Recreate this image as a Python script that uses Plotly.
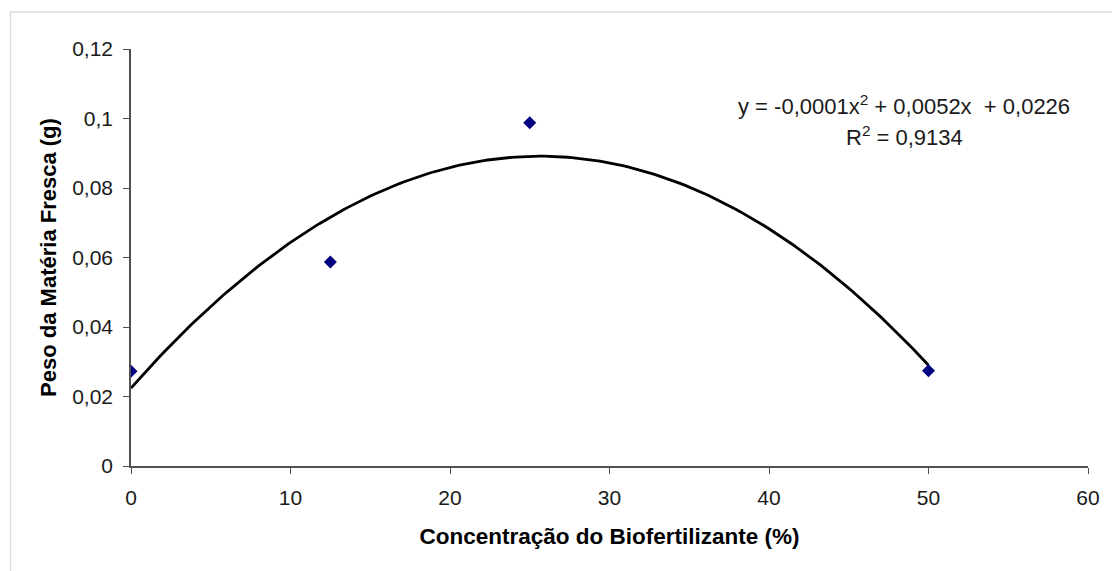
import numpy as np
import plotly.graph_objects as go

# Data
concentracao = [0, 12.5, 25, 50]
peso = [0.0273, 0.0587, 0.0988, 0.0274]

x_ticks = [0, 10, 20, 30, 40, 50, 60]
x_ticktext = ["0", "10", "20", "30", "40", "50", "60"]
y_ticks = [0, 0.02, 0.04, 0.06, 0.08, 0.1, 0.12]
y_ticktext = ["0", "0,02", "0,04", "0,06", "0,08", "0,1", "0,12"]

eq_text = "y = -0,0001x<sup>2</sup> + 0,0052x  + 0,0226"
r2_text = "R<sup>2</sup> = 0,9134"

# Polynomial (order 2) trendline fitted to the data, as in the original chart
coef = np.polyfit(concentracao, peso, 2)
xs = np.linspace(min(concentracao), max(concentracao), 200)
ys = np.polyval(coef, xs)

FONT = "Liberation Sans, Arial, sans-serif"

fig = go.Figure()
fig.add_trace(go.Scatter(x=xs, y=ys, mode="lines",
                         line=dict(color="black", width=2.8),
                         hoverinfo="skip", showlegend=False))
fig.add_trace(go.Scatter(x=concentracao, y=peso, mode="markers",
                         marker=dict(symbol="diamond", size=10, color="#000080",
                                     line=dict(width=0)),
                         showlegend=False))

tick_font = dict(family=FONT, size=21, color="#1a1a1a")

fig.update_layout(
    width=1112, height=571,
    margin=dict(l=131, r=19, t=49, b=105),
    paper_bgcolor="white", plot_bgcolor="white",
    separators=", ",
    font=tick_font,
    xaxis=dict(range=[0, 60], tickvals=x_ticks, ticktext=x_ticktext,
               showgrid=False, zeroline=False, showline=True,
               linecolor="#505050", linewidth=1.5,
               ticks="outside", ticklen=6, tickcolor="#505050", tickwidth=1.2,
               tickfont=tick_font, ticklabelstandoff=6,
               title=dict(text="<b>Concentração do Biofertilizante (%)</b>",
                          font=dict(family=FONT, size=22.5, color="black"),
                          standoff=20)),
    yaxis=dict(range=[0, 0.12], tickvals=y_ticks, ticktext=y_ticktext,
               showgrid=False, zeroline=False, showline=True,
               linecolor="#505050", linewidth=1.5,
               ticks="outside", ticklen=6, tickcolor="#505050", tickwidth=1.2,
               tickfont=tick_font, ticklabelstandoff=6,
               title=dict(text="<b>Peso da Matéria Fresca (g)</b>",
                          font=dict(family=FONT, size=22, color="black"),
                          standoff=9)),
)

fig.add_annotation(x=0.808, y=0.866, xref="paper", yref="paper",
                   text=eq_text, showarrow=False, xanchor="center", yanchor="middle",
                   font=dict(family=FONT, size=22, color="#1a1a1a"))
fig.add_annotation(x=0.808, y=0.791, xref="paper", yref="paper",
                   text=r2_text, showarrow=False, xanchor="center", yanchor="middle",
                   font=dict(family=FONT, size=22, color="#1a1a1a"))

# Light gray chart frame (top and left edges visible)
fig.add_shape(type="rect", xref="paper", yref="paper",
              x0=-0.1259, y0=-0.3, x1=1.1, y1=1.0887,
              line=dict(color="#dcdcdc", width=1.5), fillcolor="rgba(0,0,0,0)",
              layer="below")

fig.write_html("out.html", config={"displayModeBar": False},
               post_script="document.body.style.margin='0';document.body.style.overflow='hidden';")
